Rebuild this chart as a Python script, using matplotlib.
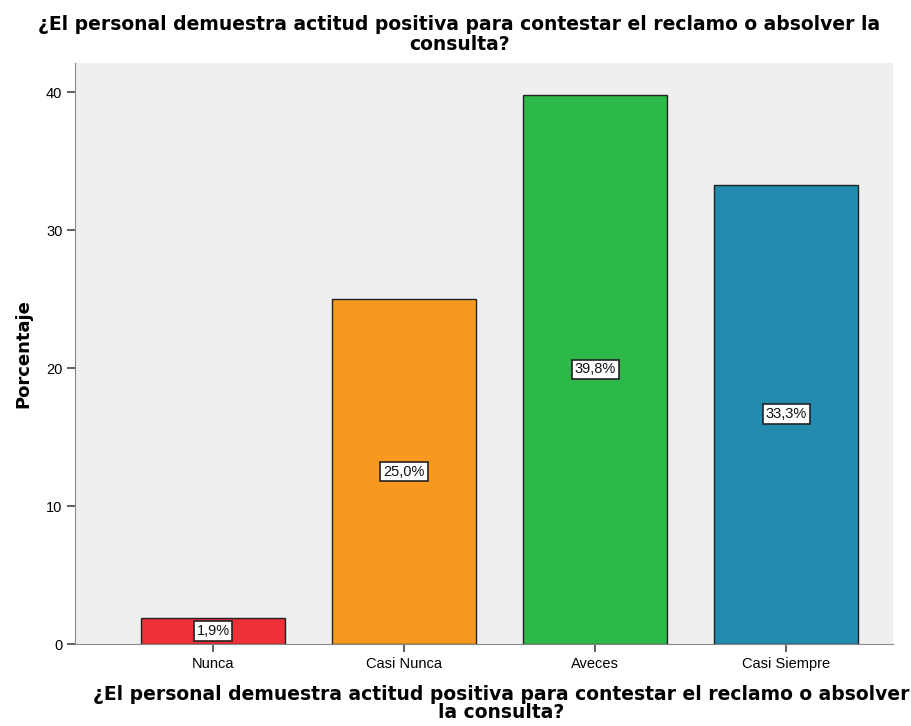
import matplotlib
matplotlib.use("Agg")
import matplotlib.pyplot as plt

categories = ["Nunca", "Casi Nunca", "Aveces", "Casi Siempre"]
values = [1.9, 25.0, 39.8, 33.3]
colors = ["#EF3038", "#F7991F", "#2DB84A", "#238BAE"]
title = "¿El personal demuestra actitud positiva para contestar el reclamo o absolver la\nconsulta?"
xlabel = "¿El personal demuestra actitud positiva para contestar el reclamo o absolver\nla consulta?"
ylabel = "Porcentaje"
yticks = [0, 10, 20, 30, 40]

fig = plt.figure(figsize=(9.11, 7.26), dpi=100)
ax = fig.add_axes([0.0823, 0.1129, 0.898, 0.8001])
ax.set_facecolor("#EFEFEF")

x = list(range(len(categories)))
ax.bar(x, values, width=0.754, color=colors, edgecolor="#222222", linewidth=1.0, zorder=2)

for xi, v in zip(x, values):
    ax.text(xi, v / 2, f"{v:.1f}%".replace(".", ","), ha="center", va="center",
            fontsize=10.5, family="Liberation Sans", color="#111111", zorder=3,
            bbox=dict(boxstyle="square,pad=0.2", facecolor="white", edgecolor="#222222", linewidth=1.2))

ax.set_xlim(-0.7225, 3.56)
ax.set_ylim(0, 42.1)
ax.set_xticks(x)
ax.set_xticklabels(categories, family="Liberation Sans", fontsize=10.5)
ax.set_yticks(yticks)
ax.set_yticklabels([str(t) for t in yticks], family="Liberation Sans", fontsize=10.5)

for s in ["top", "right"]:
    ax.spines[s].set_visible(False)
ax.spines["left"].set_color("#888888")
ax.spines["bottom"].set_color("#888888")
ax.tick_params(axis="both", length=6, width=1.2, color="#444444", pad=3)

ax.set_ylabel(ylabel, fontsize=13, fontweight="bold", family="DejaVu Sans")
ax.yaxis.set_label_coords(-0.052, 0.5, transform=ax.transAxes)
ax.set_xlabel(xlabel, fontsize=13.5, fontweight="bold", family="DejaVu Sans", linespacing=0.9)
ax.xaxis.set_label_coords(0.521, -0.071, transform=ax.transAxes)
ax.xaxis.label.set_va("top")

fig.text(0.504, 0.979, title, ha="center", va="top", fontsize=13.5, fontweight="bold",
         family="DejaVu Sans", linespacing=1.05)

fig.savefig("out.png", dpi=100, facecolor="white")
